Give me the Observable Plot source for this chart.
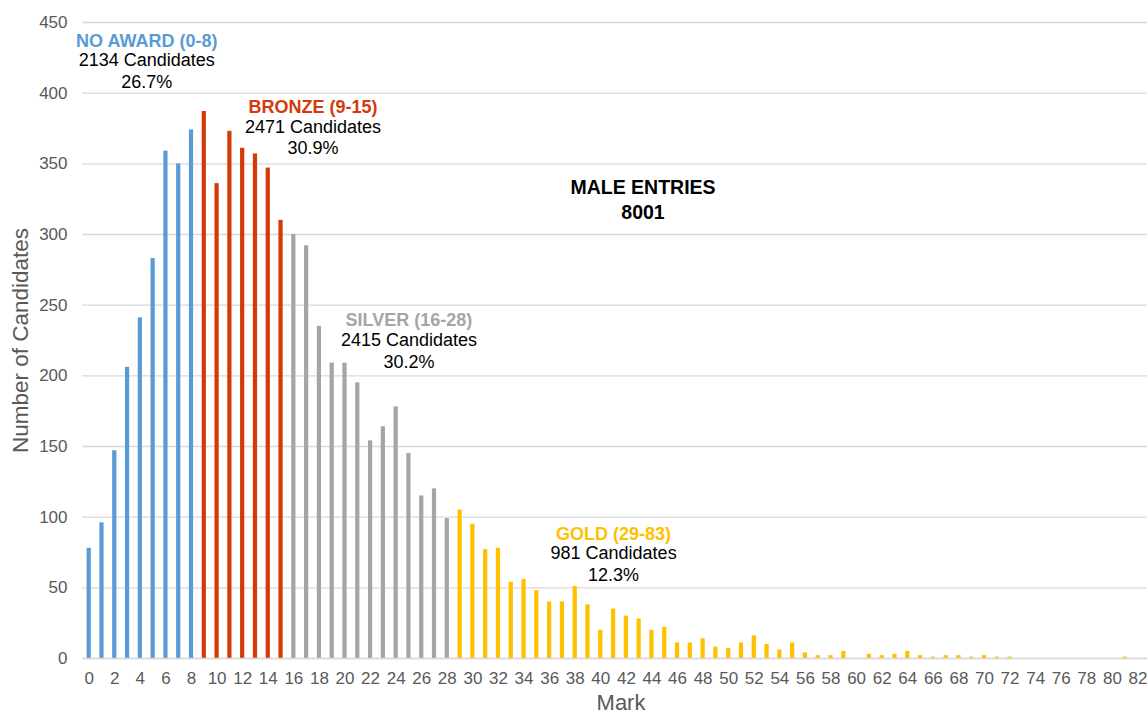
<!DOCTYPE html>
<html>
<head>
<meta charset="utf-8">
<script src="https://cdn.jsdelivr.net/npm/d3@7"></script>
<script src="https://cdn.jsdelivr.net/npm/@observablehq/plot@0.6"></script>
<style>
  html, body { margin: 0; padding: 0; background: #fff; overflow: hidden; }
  #chart svg { font-family: "Liberation Sans", Arial, sans-serif; }
</style>
</head>
<body>
<div id="chart"></div>
<script>
// Marks 0..83
const marks = d3.range(0, 84);
const counts = [
  78, 96, 147, 206, 241, 283, 359, 350, 374,            // 0-8
  387, 336, 373, 361, 357, 347, 310,                    // 9-15
  300, 292, 235, 209, 209, 195, 154, 164, 178, 145, 115, 120, 99, // 16-28
  105, 95, 77, 78, 54, 56, 48, 40, 40, 51, 38, 20, 35, 30, 28, 20, 22, // 29-45
  11, 11, 14, 8, 7, 11, 16, 10, 6, 11, 4, 2, 2, 5, 0, 3, 2, 3, 5,     // 46-64
  2, 1, 2, 2, 1, 2, 1, 1, 0, 0, 0, 0, 0, 0, 0, 0, 1, 0, 0             // 65-83
];
const bandNames = ["NO AWARD (0-8)", "BRONZE (9-15)", "SILVER (16-28)", "GOLD (29-83)"];
const bandLow = [0, 9, 16, 29];
const bandColors = ["#5B9BD5", "#D4390A", "#A5A5A5", "#FFC000"];
const bandCandidates = ["2134 Candidates", "2471 Candidates", "2415 Candidates", "981 Candidates"];
const bandPercent = ["26.7%", "30.9%", "30.2%", "12.3%"];
// annotation anchor (mark, count) for each band label
const labelMark = [4.5, 17.5, 25, 41];
const labelCount = [437, 390, 239, 88];
const entriesTitle = "MALE ENTRIES";
const entriesTotal = "8001";
const entriesAnchor = [{mark: 43.3, count: 334}];
const yTicks = d3.range(0, 451, 50);
const xTicks = d3.range(0, 84, 2);
const yTitle = "Number of Candidates";
const xTitle = "Mark";

function bandOf(m) {
  let b = 0;
  for (let i = 0; i < bandLow.length; i++) if (m >= bandLow[i]) b = i;
  return bandNames[b];
}
const data = marks.map((m, i) => ({mark: m, count: counts[i], band: bandOf(m)}));
const labels = bandNames.map((n, i) => ({
  name: n, color: bandColors[i], mark: labelMark[i], count: labelCount[i],
  body: bandCandidates[i] + "\n" + bandPercent[i]
}));

const x0 = 82.3, bw = 12.79;
const width = 1147, height = 717;
const font = "'Liberation Sans', Arial, sans-serif";

const chart = Plot.plot({
  width, height,
  marginTop: 22, marginBottom: 59, marginLeft: 82, marginRight: 0,
  style: {fontFamily: font, background: "#fff"},
  x: {type: "band", domain: marks, range: [x0, x0 + bw * marks.length], paddingInner: 0.67, paddingOuter: 0.335, label: null},
  y: {domain: [0, 450], label: null},
  color: {domain: bandNames, range: bandColors},
  marks: [
    Plot.gridY(yTicks, {stroke: "#D9D9D9", strokeOpacity: 1, strokeWidth: 1.3}),
    Plot.barY(data, {x: "mark", y: "count", fill: "band"}),
    Plot.ruleY([0], {stroke: "#D9D9D9", strokeWidth: 1.3}),
    Plot.axisY(yTicks, {tickSize: 0, tickPadding: 15, fontSize: 17, fill: "#595959", label: null}),
    Plot.axisX(xTicks, {tickSize: 0, tickPadding: 13, fontSize: 17, fill: "#595959", label: null})
  ]
});

// Annotations sit between bars (fractional marks), so they use a linear x scale aligned to band centers
const overlay = Plot.plot({
  width, height,
  marginTop: 22, marginBottom: 59, marginLeft: 82, marginRight: 0,
  style: {fontFamily: font, background: "transparent"},
  x: {domain: [0, 1], range: [x0 + bw / 2, x0 + bw * 1.5], axis: null},
  y: {domain: [0, 450], axis: null},
  marks: [
    Plot.text(labels, {x: "mark", y: "count", text: "name", fill: "color", fontWeight: "bold", fontSize: 18}),
    Plot.text(labels, {x: "mark", y: "count", text: "body", fill: "#000", fontSize: 18, lineHeight: 1.2, lineAnchor: "top", dy: 10}),
    Plot.text(entriesAnchor, {x: "mark", y: "count", text: () => entriesTitle + "\n" + entriesTotal, fill: "#000", fontWeight: "bold", fontSize: 19.5, lineHeight: 1.28, lineAnchor: "middle", dy: 12}),
    Plot.text([yTitle], {frameAnchor: "left", textAnchor: "middle", text: d => d, rotate: -90, dx: -62, fontSize: 22.5, fill: "#595959"}),
    Plot.text([xTitle], {frameAnchor: "bottom", text: d => d, dy: 51, dx: 6, fontSize: 22, fill: "#595959"})
  ]
});

const wrap = document.getElementById("chart");
wrap.style.position = "relative";
wrap.appendChild(chart);
overlay.style.position = "absolute";
overlay.style.left = "0";
overlay.style.top = "0";
wrap.appendChild(overlay);
</script>
</body>
</html>
